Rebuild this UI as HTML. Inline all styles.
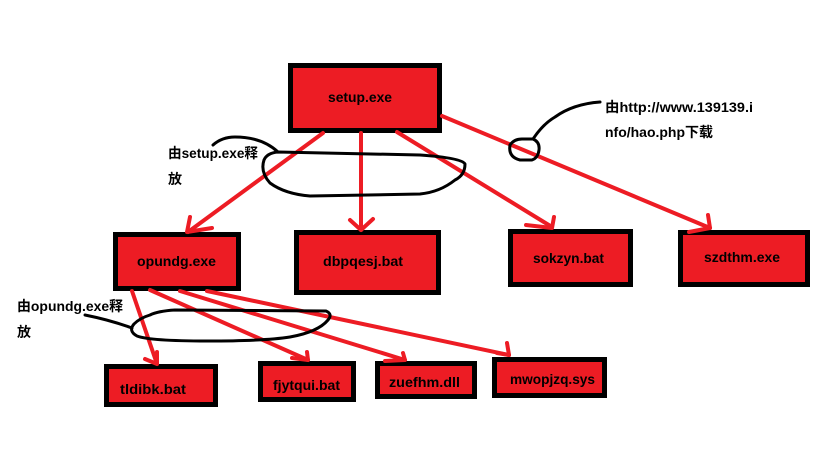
<!DOCTYPE html>
<html>
<head>
<meta charset="utf-8">
<style>
html,body{margin:0;padding:0;background:#fff;}
svg{display:block;}
text{font-family:"Liberation Sans","Noto Sans CJK SC",sans-serif;font-weight:bold;font-size:14px;fill:#000;}
</style>
</head>
<body>
<svg width="819" height="460" viewBox="0 0 819 460" xmlns="http://www.w3.org/2000/svg">
<rect x="0" y="0" width="819" height="460" fill="#fff"/>

<!-- boxes -->
<g fill="#ED1C24" stroke="#000" stroke-width="5">
  <rect x="290.5" y="65.5" width="149" height="65"/>
  <rect x="115.5" y="234.5" width="123" height="54"/>
  <rect x="296.5" y="232.5" width="142" height="60"/>
  <rect x="510.5" y="231.5" width="120" height="53"/>
  <rect x="680.5" y="232.5" width="127" height="52"/>
  <rect x="106.5" y="366.5" width="109" height="38"/>
  <rect x="260.5" y="363.5" width="93" height="36"/>
  <rect x="377.5" y="363.5" width="97" height="33"/>
  <rect x="494.5" y="359.5" width="110" height="36"/>
</g>

<!-- red arrows -->
<g stroke="#ED1C24" stroke-width="4" fill="none" stroke-linecap="round" stroke-linejoin="round">
  <line x1="323" y1="133" x2="188" y2="232"/>
  <polyline points="190,217 187,232 212,228"/>
  <line x1="361" y1="133" x2="361" y2="230"/>
  <polyline points="350,220 361,230 373,219"/>
  <line x1="397" y1="132" x2="552" y2="227"/>
  <polyline points="526,225 552,228 554,217"/>
  <line x1="442" y1="116" x2="710" y2="228"/>
  <polyline points="689,232 710,228 708,215"/>

  <line x1="132" y1="291" x2="157" y2="364"/>
  <polyline points="145,359 157,364 157,352"/>
  <line x1="150" y1="290" x2="308" y2="360"/>
  <polyline points="292,358 308,360 307,352"/>
  <line x1="180" y1="291" x2="405" y2="360"/>
  <polyline points="385,361 405,360 403,353"/>
  <line x1="207" y1="291" x2="509" y2="355"/>
  <polyline points="497,353 509,355 507,343"/>
</g>

<!-- black hand-drawn annotations -->
<g stroke="#000" stroke-width="3" fill="none" stroke-linecap="round" stroke-linejoin="round">
  <path d="M278,152 L420,155 Q462,158 465,164 Q465,175 455,180 Q440,192 420,194 L310,196 Q285,194 270,183 Q260,172 264,160 Q267,153 278,152 Z"/>
  <path d="M213,145 Q222,137 235,137 Q262,137 278,152"/>
  <path d="M150,315 Q158,311 175,310 L326,311 Q333,314 328,320 Q318,332 290,337 Q265,341 207,341 Q150,341 137,336 Q128,331 134,324 Q140,318 150,315 Z"/>
  <path d="M85,315 Q110,320 132,328"/>
  <path d="M510,145 Q514,139 522,139 L533,139 Q540,142 539,150 Q538,158 532,160 L520,160 Q508,157 510,145 Z"/>
  <path d="M533,139 Q543,124 555,117 Q573,104 600,102"/>
</g>

<!-- box labels -->
<text x="328" y="102" textLength="64" lengthAdjust="spacingAndGlyphs">setup.exe</text>
<text x="137" y="266" textLength="79" lengthAdjust="spacingAndGlyphs">opundg.exe</text>
<text x="323" y="266" textLength="80" lengthAdjust="spacingAndGlyphs">dbpqesj.bat</text>
<text x="533" y="263" textLength="71" lengthAdjust="spacingAndGlyphs">sokzyn.bat</text>
<text x="704" y="262" textLength="76" lengthAdjust="spacingAndGlyphs">szdthm.exe</text>
<text x="120" y="394" textLength="66" lengthAdjust="spacingAndGlyphs">tldibk.bat</text>
<text x="273" y="390" textLength="67" lengthAdjust="spacingAndGlyphs">fjytqui.bat</text>
<text x="389" y="387" textLength="71" lengthAdjust="spacingAndGlyphs">zuefhm.dll</text>
<text x="510" y="384" textLength="85" lengthAdjust="spacingAndGlyphs">mwopjzq.sys</text>

<!-- annotation text -->
<text x="168" y="158" textLength="90" lengthAdjust="spacingAndGlyphs">由setup.exe释</text>
<text x="168" y="184">放</text>
<text x="17" y="311" textLength="106" lengthAdjust="spacingAndGlyphs">由opundg.exe释</text>
<text x="17" y="337">放</text>
<text x="605" y="112" textLength="148" lengthAdjust="spacingAndGlyphs">由http://www.139139.i</text>
<text x="605" y="137" textLength="108" lengthAdjust="spacingAndGlyphs">nfo/hao.php下载</text>
</svg>
</body>
</html>
